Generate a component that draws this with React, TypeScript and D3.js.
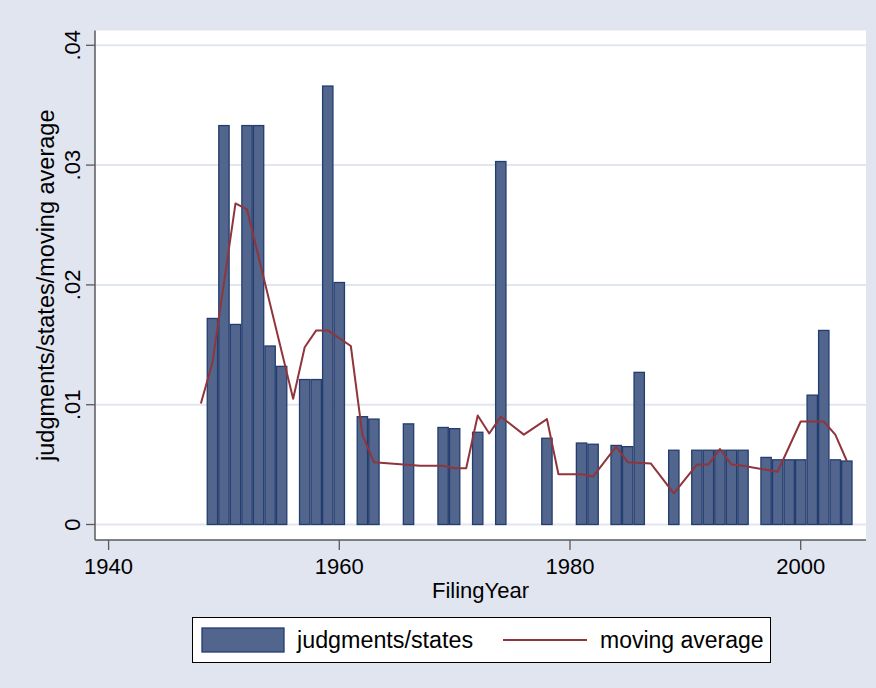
import React from 'react';
import * as d3 from 'd3';
import {useEffect, useRef} from 'react';

// bars: judgments/states by filing year
const barYears = [1949, 1950, 1951, 1952, 1953, 1954, 1955, 1957, 1958, 1959, 1960, 1962, 1963, 1966, 1969, 1970, 1972, 1974, 1978, 1981, 1982, 1984, 1985, 1986, 1989, 1991, 1992, 1993, 1994, 1995, 1997, 1998, 1999, 2000, 2001, 2002, 2003, 2004];
const barValues = [0.0172, 0.0333, 0.0167, 0.0333, 0.0333, 0.0149, 0.0132, 0.0121, 0.0121, 0.0366, 0.0202, 0.0090, 0.0088, 0.0084, 0.0081, 0.0080, 0.0077, 0.0303, 0.0072, 0.0068, 0.0067, 0.0066, 0.0065, 0.0127, 0.0062, 0.0062, 0.0062, 0.0062, 0.0062, 0.0062, 0.0056, 0.0054, 0.0054, 0.0054, 0.0108, 0.0162, 0.0054, 0.0053];

// moving average line
const maYears = [1948, 1949, 1951, 1952, 1956, 1957, 1958, 1959, 1961, 1962, 1963, 1967, 1969, 1970, 1971, 1972, 1973, 1974, 1976, 1978, 1979, 1981, 1982, 1984, 1985, 1987, 1989, 1991, 1992, 1993, 1994, 1995, 1998, 2000, 2002, 2003, 2004];
const maValues = [0.0101, 0.0135, 0.0268, 0.0263, 0.0105, 0.0148, 0.0162, 0.0162, 0.0149, 0.0075, 0.0052, 0.0049, 0.0049, 0.0047, 0.0047, 0.0091, 0.0076, 0.0090, 0.0075, 0.0088, 0.0042, 0.0042, 0.0040, 0.0065, 0.0052, 0.0051, 0.0026, 0.0050, 0.0050, 0.0063, 0.0050, 0.0049, 0.0044, 0.0086, 0.0086, 0.0075, 0.0053];

const xTicks = [1940, 1960, 1980, 2000];
const yTicks = [0, 0.01, 0.02, 0.03, 0.04];
const yTickLabels = ['0', '.01', '.02', '.03', '.04'];

const App = () => {
    const chartRef = useRef<SVGSVGElement | null>(null);
    const width = 876;
    const height = 688;

    useEffect(() => {
        const svg = d3.select(chartRef.current);
        svg.selectAll('*').remove();

        const font = "'Liberation Sans', Arial, sans-serif";
        const left = 95, right = 866, top = 30.5, bottom = 540;

        svg.append('rect').attr('width', width).attr('height', height).attr('fill', '#E1E5F0');
        svg.append('rect')
            .attr('x', left).attr('y', top)
            .attr('width', right - left).attr('height', bottom - top)
            .attr('fill', '#ffffff');

        const xScale = d3.scaleLinear().domain([1940, 2000]).range([108.6, 800.7]);
        const yScale = d3.scaleLinear().domain([0, 0.04]).range([524.5, 45.3]);

        // gridlines
        svg.append('g')
            .selectAll('line')
            .data(yTicks)
            .enter()
            .append('line')
            .attr('x1', left).attr('x2', right)
            .attr('y1', d => yScale(d)).attr('y2', d => yScale(d))
            .attr('stroke', '#E2E6F1')
            .attr('stroke-width', 2);

        // bars
        const step = xScale(1941) - xScale(1940);
        svg.append('g')
            .selectAll('rect')
            .data(barYears)
            .enter()
            .append('rect')
            .attr('x', d => xScale(d) - step / 2 + 0.6)
            .attr('y', (d, i) => yScale(barValues[i]))
            .attr('width', step - 1.2)
            .attr('height', (d, i) => yScale(0) - yScale(barValues[i]))
            .attr('fill', '#52658C')
            .attr('stroke', '#233D70')
            .attr('stroke-width', 1.3);

        // moving average
        const line = d3.line<number>()
            .x(d => xScale(d))
            .y((d, i) => yScale(maValues[i]));
        svg.append('path')
            .datum(maYears)
            .attr('d', line)
            .attr('fill', 'none')
            .attr('stroke', '#90353B')
            .attr('stroke-width', 2)
            .attr('stroke-linejoin', 'round');

        // axes
        const axisColor = '#5A5A5A';
        svg.append('line').attr('x1', left).attr('x2', left).attr('y1', top).attr('y2', bottom)
            .attr('stroke', axisColor).attr('stroke-width', 1.5);
        svg.append('line').attr('x1', left).attr('x2', right).attr('y1', bottom).attr('y2', bottom)
            .attr('stroke', axisColor).attr('stroke-width', 1.5);

        const yAxis = svg.append('g');
        yTicks.forEach((t, i) => {
            yAxis.append('line').attr('x1', left - 9).attr('x2', left).attr('y1', yScale(t)).attr('y2', yScale(t))
                .attr('stroke', axisColor).attr('stroke-width', 1.3);
            yAxis.append('text')
                .attr('transform', `translate(80,${yScale(t)}) rotate(-90)`)
                .style('text-anchor', 'middle')
                .style('font-family', font)
                .style('font-size', '22px')
                .attr('fill', '#000')
                .text(yTickLabels[i]);
        });

        const xAxis = svg.append('g');
        xTicks.forEach(t => {
            xAxis.append('line').attr('x1', xScale(t)).attr('x2', xScale(t)).attr('y1', bottom).attr('y2', bottom + 10)
                .attr('stroke', axisColor).attr('stroke-width', 1.3);
            xAxis.append('text')
                .attr('x', xScale(t)).attr('y', 574)
                .style('text-anchor', 'middle')
                .style('font-family', font)
                .style('font-size', '22px')
                .text(String(t));
        });

        svg.append('text')
            .attr('x', (left + right) / 2).attr('y', 598)
            .style('text-anchor', 'middle')
            .style('font-family', font)
            .style('font-size', '22px')
            .text('FilingYear');

        svg.append('text')
            .attr('transform', `translate(54,${(top + bottom) / 2}) rotate(-90)`)
            .style('text-anchor', 'middle')
            .style('font-family', font)
            .style('font-size', '23.5px')
            .text('judgments/states/moving average');

        // legend
        const legend = svg.append('g');
        legend.append('rect').attr('x', 192.5).attr('y', 617.5).attr('width', 578).attr('height', 45)
            .attr('fill', '#fff').attr('stroke', '#000').attr('stroke-width', 1);
        legend.append('rect').attr('x', 202).attr('y', 628).attr('width', 82).attr('height', 24)
            .attr('fill', '#52658C').attr('stroke', '#233D70').attr('stroke-width', 1.3);
        legend.append('text').attr('x', 297).attr('y', 648)
            .style('font-family', font).style('font-size', '23.3px').text('judgments/states');
        legend.append('line').attr('x1', 503).attr('x2', 587).attr('y1', 640).attr('y2', 640)
            .attr('stroke', '#90353B').attr('stroke-width', 2);
        legend.append('text').attr('x', 600).attr('y', 648)
            .style('font-family', font).style('font-size', '23px').text('moving average');
    }, []);

    return (
        <svg ref={chartRef} width={width} height={height}
             style={{position: 'absolute', left: 0, top: 0, display: 'block'}}></svg>
    );
};

export default App;
